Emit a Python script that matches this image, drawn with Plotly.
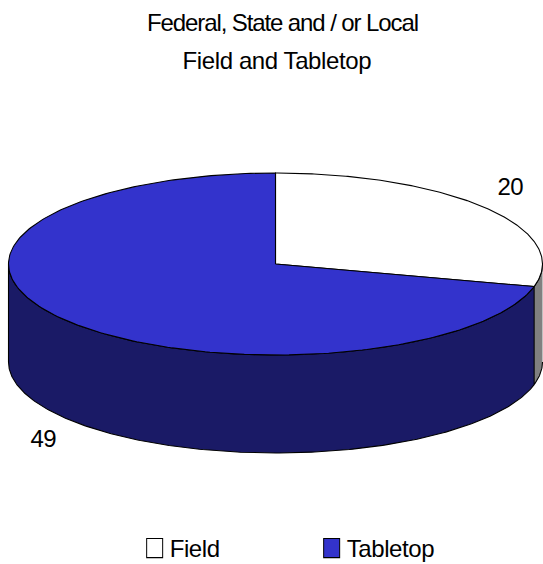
import numpy as np
import plotly.graph_objects as go

categories = ["Field", "Tabletop"]
values = [20, 49]
title_lines = ["Federal, State and / or Local", "Field and Tabletop"]

CX, CY, RX, RY, DEPTH = 275.5, 264, 267, 91, 98
FONT = "Liberation Sans"
total = sum(values)
a_field = 2 * np.pi * values[0] / total


def px(t):
    return CX + RX * np.sin(t)


def py(t):
    return CY + RY * (-np.cos(t))


def arc(a, b, n=240):
    return np.linspace(a, b, n)


fig = go.Figure()
OUT = dict(color="#000000", width=1.1)


def poly(xs, ys, fill):
    fig.add_trace(go.Scatter(x=xs, y=ys, mode="lines", fill="toself", fillcolor=fill,
                             line=OUT, showlegend=False, hoverinfo="skip"))


# outer wall of the Tabletop slice (visible part, lower half of the ellipse)
t = arc(a_field, 3 * np.pi / 2)
poly(np.r_[px(t), px(t[::-1])], np.r_[py(t), py(t[::-1]) + DEPTH], "#1a1a66")

# outer wall of the Field slice (grey, visible on the far right)
t = arc(np.pi / 2, a_field, 40)
poly(np.r_[px(t), px(t[::-1])], np.r_[py(t), py(t[::-1]) + DEPTH], "#808080")

# top faces
t = arc(0, a_field)
poly(np.r_[CX, px(t), CX], np.r_[CY, py(t), CY], "#ffffff")
t = arc(a_field, 2 * np.pi)
poly(np.r_[CX, px(t), CX], np.r_[CY, py(t), CY], "#3333cc")

# legend entries
for name, col in zip(categories, ["#ffffff", "#3333cc"]):
    fig.add_trace(go.Scatter(x=[None], y=[None], mode="markers", name=name,
                             marker=dict(symbol="square", size=16, color=col,
                                         line=dict(color="#000000", width=1))))

fig.add_annotation(x=510, y=186, text=str(values[0]), showarrow=False, font=dict(size=24, color="#000"))
fig.add_annotation(x=43, y=438, text=str(values[1]), showarrow=False, font=dict(size=24, color="#000"))
for line, yy, xx in zip(title_lines, [22, 60], [282, 276.5]):
    fig.add_annotation(x=xx, y=yy, text=line, showarrow=False, font=dict(size=24, color="#000"))

fig.update_layout(
    width=543, height=564, margin=dict(l=0, r=0, t=0, b=0),
    paper_bgcolor="#fff", plot_bgcolor="#fff",
    font=dict(family=FONT, size=24, color="#000"),
    xaxis=dict(range=[0, 543], visible=False, fixedrange=True),
    yaxis=dict(range=[564, 0], visible=False, fixedrange=True),
    legend=dict(orientation="h", x=0.248, y=0, xanchor="left", yanchor="bottom",
                font=dict(size=24), entrywidth=132, entrywidthmode="pixels",
                bgcolor="rgba(0,0,0,0)"),
)
post = """
document.documentElement.style.margin='0';
document.body.style.margin='0';
var st=document.createElement('style');
st.textContent='svg text{letter-spacing:-0.4px !important}';
document.head.appendChild(st);
document.querySelectorAll('text').forEach(function(e){
  if(e.textContent.indexOf('Federal')===0){e.style.setProperty('letter-spacing','-1.1px','important');}
  if(e.classList.contains('legendtext')){e.setAttribute('x',(+e.getAttribute('x'))-5);}
});
document.querySelectorAll('.legendpoints path').forEach(function(e){
  var t=e.getAttribute('transform')||'';
  e.setAttribute('transform',t+' scale(1.0,1.2)');
  e.style.strokeWidth='1px';
});
var lg=document.querySelector('g.legend');
if(lg){
  var m=/translate\\(([-\\d.]+),\\s*([-\\d.]+)\\)/.exec(lg.getAttribute('transform'));
  if(m){lg.setAttribute('transform','translate('+m[1]+','+(+m[2]+7)+')');}
}
"""
fig.write_html("out.html", post_script=post, config={"displayModeBar": False})
